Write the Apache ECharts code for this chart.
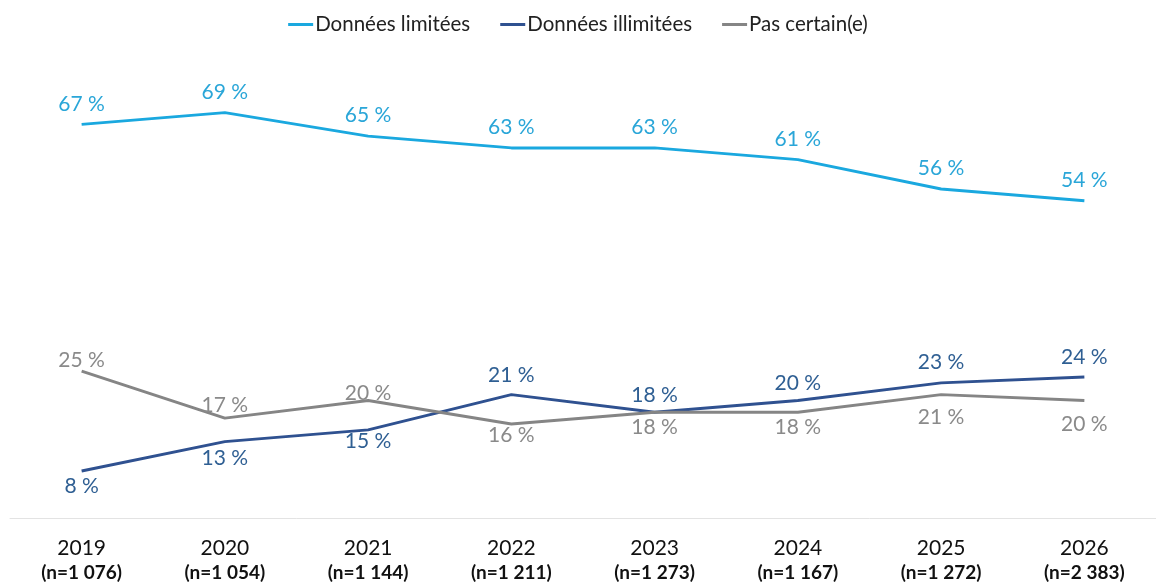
<!DOCTYPE html>
<html>
<head>
<meta charset="utf-8">
<script src="https://cdn.jsdelivr.net/npm/echarts@6/dist/echarts.min.js"></script>
<style>
  html, body { margin: 0; padding: 0; background: #fff; }
  #main { width: 1156px; height: 587px; }
</style>
</head>
<body>
<div id="main"></div>
<script>
// catégories (année + taille d'échantillon)
var years = ['2019', '2020', '2021', '2022', '2023', '2024', '2025', '2026'];
var samples = ['n=1 076', 'n=1 054', 'n=1 144', 'n=1 211', 'n=1 273', 'n=1 167', 'n=1 272', 'n=2 383'];

// séries
var limitees = [67, 69, 65, 63, 63, 61, 56, 54];
var illimitees = [8, 13, 15, 21, 18, 20, 23, 24];
var pasCertain = [25, 17, 20, 16, 18, 18, 21, 20];

// placement des étiquettes (position + écart)
var posIllimitees = ['bottom', 'bottom', 'bottom', 'top', 'top', 'top', 'top', 'top'];
var distIllimitees = [5, 6, 1, 9, 7, 7, 10, 9];
var posPasCertain = ['top', 'top', 'top', 'bottom', 'bottom', 'bottom', 'bottom', 'bottom'];
var distPasCertain = [0, 2, -3, 1, 4, 4, 12, 13];

var font = 'Lato, "Open Sans", sans-serif';

var categories = years.map(function (y, i) {
    return y + '\n' + '(' + samples[i] + ')';
});

function withPos(values, pos, dist) {
    return values.map(function (v, i) {
        return { value: v, label: { position: pos[i], distance: dist[i] } };
    });
}

var chart = echarts.init(document.getElementById('main'));
chart.setOption({
    animation: false,
    textStyle: { fontFamily: font },
    legend: {
        top: 9,
        left: 'center',
        icon: 'rect',
        itemWidth: 25,
        itemHeight: 3,
        itemGap: 30,
        textStyle: { fontSize: 20.5, color: '#222', fontFamily: font, padding: [0, 0, 0, -3] },
        data: ['Données limitées', 'Données illimitées', 'Pas certain(e)']
    },
    grid: { left: 10, right: 0, top: 48, bottom: 69 },
    xAxis: {
        type: 'category',
        data: categories,
        axisLine: { lineStyle: { color: '#e3e3e3', width: 1 } },
        axisTick: { show: false },
        axisLabel: {
            margin: 19,
            interval: 0,
            formatter: function (v) {
                var p = v.split('\n');
                return '{y|' + p[0] + '}\n{n|' + p[1] + '}';
            },
            rich: {
                y: { fontSize: 21, color: '#111', fontFamily: font, lineHeight: 22 },
                n: { fontSize: 19, color: '#111', fontWeight: 'bold', fontFamily: font, lineHeight: 27 }
            }
        }
    },
    yAxis: {
        type: 'value',
        min: 0,
        max: 80,
        show: false,
        splitLine: { show: false }
    },
    series: [
        {
            name: 'Données limitées',
            type: 'line',
            data: limitees,
            symbol: 'circle',
            symbolSize: 0,
            lineStyle: { color: '#1aa8df', width: 3 },
            itemStyle: { color: '#1aa8df' },
            label: {
                show: true, position: 'top', distance: 10,
                formatter: '{c} %', fontSize: 21, color: '#2aa6d8', fontFamily: font
            }
        },
        {
            name: 'Données illimitées',
            type: 'line',
            data: withPos(illimitees, posIllimitees, distIllimitees),
            symbol: 'circle',
            symbolSize: 0,
            lineStyle: { color: '#2f5190', width: 3 },
            itemStyle: { color: '#2f5190' },
            label: {
                show: true,
                formatter: '{c} %', fontSize: 21, color: '#2f5f93', fontFamily: font
            }
        },
        {
            name: 'Pas certain(e)',
            type: 'line',
            data: withPos(pasCertain, posPasCertain, distPasCertain),
            symbol: 'circle',
            symbolSize: 0,
            lineStyle: { color: '#858585', width: 3 },
            itemStyle: { color: '#858585' },
            label: {
                show: true,
                formatter: '{c} %', fontSize: 21, color: '#8a8a8a', fontFamily: font
            }
        }
    ]
});
</script>
</body>
</html>
